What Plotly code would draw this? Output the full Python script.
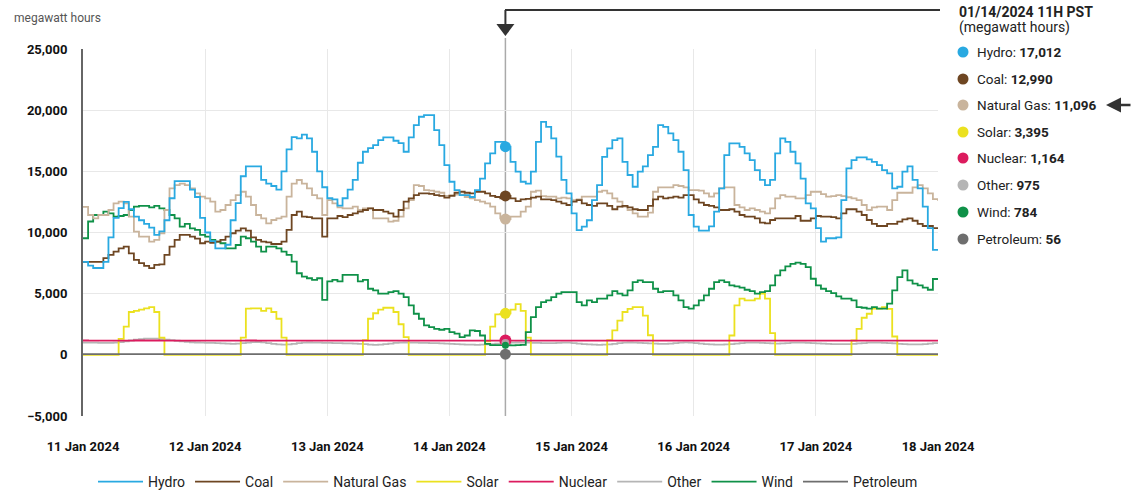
import pandas as pd
import plotly.graph_objects as go

# ---------------- data (hourly MWh, 11 Jan 00H .. 18 Jan 00H) ----------------
hydro = [
    7600, 7300, 7100, 7100, 7600, 9600, 11200, 12000, 12500, 11900,
    11300, 11000, 10700, 10400, 9800, 10100, 11000, 12800, 14200, 14200,
    14200, 13500, 12900, 11200, 10000, 9300, 8700, 8700, 9000, 11000,
    12400, 14600, 15400, 15400, 15400, 14300, 14000, 13800, 13500, 15000,
    16800, 17800, 17700, 18000, 17700, 16600, 15000, 13700, 12800, 12700,
    12200, 12800, 13500, 14300, 15700, 16600, 16900, 17150, 17550, 17770,
    17770, 17500, 17300, 16600, 17770, 18780, 19460, 19600, 19600, 18370,
    17150, 15500, 14150, 13470, 13060, 13060, 12900, 13470, 14400, 15650,
    16460, 17400, 17400, 17012, 15780, 14970, 14150, 14000, 14970, 17400,
    19050, 18640, 17700, 16200, 14300, 13200, 11570, 10200, 10480, 11000,
    12650, 13880, 16190, 16870, 17550, 17700, 15780, 14700, 13740, 14970,
    15400, 16330, 17000, 18780, 18640, 18100, 17550, 16600, 15100, 11430,
    10480, 10150, 10150, 10500, 11700, 13600, 16330, 17280, 17280, 17000,
    16460, 15920, 15100, 14300, 13880, 14300, 16460, 17700, 17400, 16600,
    15650, 14400, 12380, 11980, 10350, 9260, 9530, 9530, 9600, 12650,
    15240, 15920, 16140, 16140, 15970, 15780, 15500, 15100, 14830, 13600,
    13740, 14970, 15400, 14300, 13600, 12110, 10350, 8580, 8580,
]
coal = [
    7600, 7600, 7600, 7600, 7900, 8170, 8440, 8710, 8850, 8300,
    7760, 7490, 7270, 7080, 7350, 7400, 8170, 8850, 9390, 9800,
    9800, 9660, 9500, 9120, 9260, 9150, 9260, 9390, 9660, 9940,
    10150, 10340, 10150, 9600, 9400, 9260, 9200, 9060, 9060, 9260,
    10210, 11430, 11700, 11300, 11250, 11160, 11160, 9660, 11160, 11160,
    11350, 11250, 11430, 11570, 11700, 11840, 11980, 11840, 11840, 11700,
    11570, 11300, 11840, 12520, 12790, 13060, 13200, 13200, 13150, 13060,
    13000, 12850, 13000, 13250, 13330, 13250, 13200, 13330, 13330, 13200,
    13000, 12900, 12790, 12990, 12790, 12570, 12700, 12750, 12850, 12930,
    12700, 12700, 12650, 12520, 12380, 12250, 12520, 12650, 12380, 12250,
    12170, 12380, 12380, 12170, 11900, 12110, 12170, 12050, 11900, 11840,
    11840, 12170, 12700, 12930, 12790, 12850, 12930, 12850, 13060, 13060,
    12710, 12440, 12250, 12170, 12050, 11840, 11840, 11900, 11700, 11430,
    11300, 11300, 11160, 10800, 10750, 11020, 11160, 11160, 11160, 11160,
    11350, 10960, 10960, 11160, 11350, 11300, 11300, 11250, 11160, 11570,
    11900, 11900, 11700, 11430, 11020, 10700, 10530, 10530, 10700, 10700,
    10890, 11080, 11160, 10960, 10700, 10530, 10530, 10350, 10350,
]
natural_gas = [
    12100, 11430, 11160, 11430, 11430, 11840, 12380, 12520, 12380, 11300,
    10070, 9660, 9660, 9260, 9390, 9940, 11840, 13600, 13880, 14000,
    13880, 13600, 13200, 12930, 12790, 12520, 11700, 11840, 12250, 12650,
    13060, 13330, 12930, 12250, 11430, 11160, 10750, 11020, 11160, 11300,
    12930, 14000, 14290, 14000, 13600, 13060, 12790, 11430, 12650, 12380,
    12050, 11980, 11980, 12110, 11840, 11980, 11980, 11160, 11160, 11160,
    10890, 10960, 11300, 11980, 12650, 13880, 13800, 13470, 13420, 13330,
    13250, 13000, 13060, 13100, 13100, 12900, 12790, 12650, 12520, 12380,
    12110, 11570, 11160, 11096, 11300, 11300, 11700, 12110, 13330, 13420,
    12980, 12930, 12930, 12790, 12850, 12790, 12650, 12700, 12930, 12930,
    12930, 13330, 13420, 13200, 12790, 12520, 12110, 11840, 11570, 11300,
    11300, 11630, 13330, 13690, 13690, 13690, 13880, 13800, 13690, 13470,
    13470, 13420, 13200, 12930, 13200, 13600, 13690, 13690, 12250, 12050,
    11840, 11980, 11840, 11700, 11570, 11980, 12790, 13060, 12930, 12930,
    12790, 12790, 13060, 13330, 13330, 13140, 12930, 12980, 13060, 12980,
    12880, 12790, 12650, 12250, 11840, 12050, 12110, 12110, 11840, 12650,
    13250, 13250, 13250, 13690, 13880, 13600, 13200, 12730, 12600,
]
solar = [
    0, 0, 0, 0, 0, 0, 0, 1300, 2300, 3500,
    3600, 3700, 3800, 3900, 3500, 1400, 0, 0, 0, 0,
    0, 0, 0, 0, 0, 0, 0, 0, 0, 0,
    0, 1400, 3770, 3800, 3800, 3600, 3800, 3500, 2950, 1400,
    0, 0, 0, 0, 0, 0, 0, 0, 0, 0,
    0, 0, 0, 0, 0, 1200, 2950, 3400, 3700, 3850,
    3850, 3500, 2500, 1450, 0, 0, 0, 0, 0, 0,
    0, 0, 0, 0, 0, 0, 0, 0, 0, 1100,
    2300, 3300, 3350, 3395, 3700, 4150, 3600, 1400, 0, 0,
    0, 0, 0, 0, 0, 0, 0, 0, 0, 0,
    0, 0, 0, 1200, 2000, 2800, 3500, 3750, 3900, 3900,
    3200, 1600, 0, 0, 0, 0, 0, 0, 0, 0,
    0, 0, 0, 0, 0, 0, 0, 1580, 4040, 4590,
    4450, 4450, 4600, 5000, 4600, 1770, 0, 0, 0, 0,
    0, 0, 0, 0, 0, 0, 0, 0, 0, 0,
    0, 1170, 2130, 3030, 3360, 3770, 3770, 3900, 3750, 1500,
    0, 0, 0, 0, 0, 0, 0, 0, 0,
]
nuclear = [
    1170, 1168, 1168, 1166, 1166, 1165, 1165, 1164, 1166, 1168,
    1170, 1170, 1172, 1172, 1170, 1168, 1166, 1165, 1164, 1164,
    1165, 1166, 1168, 1168, 1166, 1165, 1164, 1164, 1163, 1165,
    1166, 1168, 1170, 1170, 1168, 1166, 1165, 1164, 1164, 1165,
    1166, 1166, 1168, 1168, 1166, 1165, 1164, 1163, 1163, 1164,
    1165, 1166, 1168, 1168, 1167, 1166, 1165, 1164, 1164, 1163,
    1163, 1164, 1165, 1166, 1168, 1168, 1166, 1165, 1164, 1164,
    1163, 1163, 1164, 1165, 1166, 1166, 1165, 1164, 1164, 1163,
    1163, 1164, 1164, 1164, 1165, 1166, 1166, 1165, 1164, 1164,
    1163, 1163, 1164, 1165, 1166, 1167, 1167, 1166, 1165, 1164,
    1164, 1163, 1163, 1164, 1165, 1166, 1166, 1165, 1164, 1164,
    1163, 1163, 1164, 1165, 1166, 1166, 1165, 1164, 1163, 1163,
    1164, 1165, 1166, 1166, 1165, 1164, 1164, 1163, 1163, 1164,
    1165, 1166, 1166, 1165, 1164, 1163, 1163, 1164, 1165, 1166,
    1166, 1165, 1164, 1164, 1163, 1163, 1164, 1165, 1166, 1166,
    1165, 1164, 1164, 1163, 1163, 1164, 1165, 1166, 1166, 1165,
    1164, 1164, 1163, 1163, 1164, 1165, 1166, 1166, 1165,
]
other = [
    1000, 995, 990, 985, 980, 985, 1000, 1040, 1100, 1170,
    1240, 1290, 1320, 1330, 1320, 1290, 1250, 1200, 1150, 1100,
    1060, 1030, 1010, 990, 980, 970, 960, 940, 920, 900,
    920, 960, 1000, 1040, 1050, 1020, 960, 900, 850, 830,
    850, 900, 960, 1000, 1010, 1000, 990, 980, 970, 960,
    950, 940, 930, 920, 900, 870, 840, 820, 830, 870,
    920, 970, 1000, 1010, 1000, 990, 980, 970, 960, 950,
    940, 920, 900, 880, 860, 840, 830, 820, 830, 850,
    880, 910, 940, 975, 1000, 1010, 1000, 990, 980, 970,
    960, 950, 960, 980, 1000, 990, 960, 920, 880, 850,
    830, 820, 830, 860, 900, 950, 990, 1010, 1000, 980,
    960, 940, 920, 900, 900, 920, 960, 1000, 1020, 1000,
    960, 920, 880, 850, 830, 830, 850, 880, 920, 960,
    990, 1000, 990, 970, 950, 930, 920, 930, 960, 990,
    1000, 990, 970, 950, 930, 920, 900, 880, 870, 870,
    880, 900, 930, 960, 990, 1000, 990, 970, 950, 930,
    900, 880, 860, 850, 860, 880, 920, 960, 980,
]
wind = [
    9530, 10900, 11430, 11430, 11700, 11570, 11300, 11350, 11430, 11840,
    12110, 12170, 12170, 12050, 12170, 11980, 11840, 11430, 11160, 10480,
    10700, 10340, 10210, 9800, 9660, 9390, 9260, 9120, 8710, 8710,
    8980, 9660, 9530, 9260, 8850, 8440, 8850, 8850, 8710, 8440,
    8170, 7620, 6670, 6400, 6260, 6130, 6260, 4500, 6000, 6130,
    6000, 6540, 6540, 6540, 6000, 6130, 5400, 5270, 5000, 5000,
    5130, 5210, 5000, 4720, 4040, 3360, 2950, 2400, 2270, 2130,
    2050, 2130, 1860, 1730, 1450, 1580, 2000, 1950, 1580, 900,
    800, 790, 790, 784, 780, 800, 820, 1860, 3090, 3900,
    4310, 4450, 4720, 5000, 5130, 5130, 5130, 4310, 4040, 4450,
    4310, 4590, 4590, 4860, 5210, 5000, 4860, 5270, 5950, 6090,
    5950, 5950, 5400, 5130, 5210, 5210, 4860, 4450, 3900, 3770,
    4040, 4450, 4860, 5400, 5950, 6090, 5950, 5680, 5600, 5490,
    5320, 5210, 5000, 5130, 5210, 5680, 6500, 6900, 7230, 7440,
    7530, 7440, 7170, 6220, 5680, 5400, 5210, 5050, 4780, 4590,
    4590, 4450, 3900, 3850, 3770, 3900, 3770, 3770, 4180, 5270,
    6360, 6900, 6090, 5820, 5680, 5490, 5320, 6200, 6200,
]
petroleum = [
    58, 58, 57, 57, 56, 56, 57, 58, 59, 60,
    60, 61, 61, 60, 59, 58, 58, 57, 57, 56,
    56, 56, 55, 55, 55, 56, 56, 57, 58, 58,
    59, 59, 60, 60, 59, 58, 57, 57, 56, 56,
    55, 55, 56, 56, 57, 57, 58, 58, 57, 57,
    56, 56, 55, 55, 55, 56, 57, 58, 58, 59,
    59, 60, 60, 59, 58, 57, 56, 56, 55, 55,
    55, 56, 56, 57, 57, 58, 58, 57, 57, 56,
    56, 56, 56, 56, 57, 57, 58, 58, 59, 59,
    58, 58, 57, 57, 56, 56, 55, 55, 56, 56,
    57, 57, 58, 58, 57, 57, 56, 56, 55, 55,
    55, 56, 56, 57, 58, 58, 59, 59, 58, 58,
    57, 57, 56, 56, 55, 55, 56, 56, 57, 57,
    58, 58, 57, 57, 56, 56, 55, 55, 55, 56,
    56, 57, 57, 58, 58, 57, 57, 56, 56, 55,
    55, 56, 56, 57, 57, 58, 58, 57, 57, 56,
    56, 55, 55, 56, 56, 57, 57, 58, 58,
]

series_names = ["Hydro", "Coal", "Natural Gas", "Solar", "Nuclear", "Other", "Wind", "Petroleum"]
series_values = [hydro, coal, natural_gas, solar, nuclear, other, wind, petroleum]
series_colors = ["#29A9E1", "#6E4622", "#C9B49C", "#EBE11F", "#DC1B5E", "#B5B5B5", "#0F9148", "#6E6E6E"]
day_ticks = ["2024-01-11", "2024-01-12", "2024-01-13", "2024-01-14",
             "2024-01-15", "2024-01-16", "2024-01-17", "2024-01-18"]
y_ticks = [-5000, 0, 5000, 10000, 15000, 20000, 25000]
cursor_time = "2024-01-14 11:00"
cursor_title = "01/14/2024 11H PST"
cursor_subtitle = "(megawatt hours)"
y_unit = "megawatt hours"

times = pd.date_range("2024-01-11 00:00", periods=len(hydro), freq="h")
cursor_idx = list(times).index(pd.Timestamp(cursor_time))

FONT = "Roboto, sans-serif"

FW, FH = 1141, 493
# plot area in window pixels
PX0, PX1, PY0, PY1 = 83, 938, 49, 416
L, R, T, B = PX0, FW - PX1, PY0, FH - PY1
PW, PH = PX1 - PX0, PY1 - PY0


def px_x(px):
    return (px - PX0) / PW


def px_y(py):
    return (PY1 - py) / PH


fig = go.Figure()

draw_order = ["Other", "Solar", "Petroleum", "Nuclear", "Wind", "Natural Gas", "Coal", "Hydro"]
for name in draw_order:
    i = series_names.index(name)
    fig.add_trace(go.Scatter(
        x=times, y=series_values[i], name=name, mode="lines",
        line=dict(color=series_colors[i], width=1.8, shape="hv"),
        legendrank=i + 1,
    ))

# cursor markers
for name in ["Petroleum", "Solar", "Natural Gas", "Coal", "Hydro", "Nuclear", "Other", "Wind"]:
    i = series_names.index(name)
    size = {"Nuclear": 12, "Other": 8, "Wind": 7}.get(name, 11)
    fig.add_trace(go.Scatter(
        x=[times[cursor_idx]], y=[series_values[i][cursor_idx]], mode="markers",
        marker=dict(color=series_colors[i], size=size, line=dict(width=0)),
        showlegend=False, hoverinfo="skip",
        opacity=0.85 if name == "Other" else 1,
    ))

shapes = []
annotations = []

# cursor line
shapes.append(dict(type="line", xref="x", yref="paper", x0=cursor_time, x1=cursor_time,
                   y0=0, y1=px_y(38), line=dict(color="#aaaaaa", width=1.5), layer="below"))
# top pointer
shapes.append(dict(type="line", xref="x", yref="paper", x0=cursor_time, x1=cursor_time,
                   y0=px_y(10), y1=px_y(26), line=dict(color="#333333", width=2)))
shapes.append(dict(type="line", xref="paper", yref="paper", x0=px_x(505), x1=px_x(940),
                   y0=px_y(10), y1=px_y(10), line=dict(color="#333333", width=2)))
shapes.append(dict(type="path", xref="x", yref="paper", xsizemode="pixel", ysizemode="pixel",
                   xanchor=cursor_time, yanchor=px_y(36),
                   path="M -9,12 L 9,12 L 0,0 Z", fillcolor="#333333", line=dict(width=0)))

annotations.append(dict(text=y_unit, xref="paper", yref="paper", x=px_x(12), y=px_y(18),
                        xanchor="left", yanchor="middle", showarrow=False,
                        font=dict(family=FONT, size=12, color="#555555")))
annotations.append(dict(text="<b>" + cursor_title + "</b>", xref="paper", yref="paper",
                        x=px_x(957), y=px_y(12), xanchor="left", yanchor="middle", showarrow=False,
                        font=dict(family=FONT, size=14, color="#222222")))
annotations.append(dict(text=cursor_subtitle, xref="paper", yref="paper",
                        x=px_x(957), y=px_y(28), xanchor="left", yanchor="middle", showarrow=False,
                        font=dict(family=FONT, size=14, color="#222222")))

row_y = [52, 79, 105, 132, 158, 185, 212, 239]
for k, name in enumerate(series_names):
    val = series_values[k][cursor_idx]
    shapes.append(dict(type="circle", xref="paper", yref="paper", xsizemode="pixel", ysizemode="pixel",
                       xanchor=px_x(963), yanchor=px_y(row_y[k]), x0=-5.5, x1=5.5, y0=-5.5, y1=5.5,
                       fillcolor=series_colors[k], line=dict(width=0)))
    annotations.append(dict(text=f"{name}: <b>{val:,}</b>", xref="paper", yref="paper",
                            x=px_x(975), y=px_y(row_y[k]), xanchor="left", yanchor="middle",
                            showarrow=False, font=dict(family=FONT, size=13.5, color="#222222")))

# arrow pointing at the Natural Gas row
annotations.append(dict(text="", xref="paper", yref="paper", x=px_x(1106), y=px_y(105),
                        ax=26, ay=0, showarrow=True, arrowhead=2, arrowsize=1.2, arrowwidth=2.5,
                        arrowcolor="#333333"))

fig.update_layout(
    width=FW, height=FH,
    margin=dict(l=L, r=R, t=T, b=B, pad=0, autoexpand=False),
    plot_bgcolor="white", paper_bgcolor="white",
    font=dict(family=FONT, color="#222222"),
    showlegend=True,
    legend=dict(orientation="h", x=px_x(508), xanchor="center", y=px_y(482), yanchor="middle",
                font=dict(family=FONT, size=14, color="#222222"), itemwidth=45,
                traceorder="normal"),
    xaxis=dict(range=[day_ticks[0], day_ticks[-1]], tickvals=day_ticks, tickformat="%-d %b %Y",
               showgrid=True, gridcolor="#e8e8e8", gridwidth=1, zeroline=False, showline=False,
               automargin=False,
               ticks="outside", ticklen=18, tickcolor="rgba(0,0,0,0)",
               tickfont=dict(family=FONT, size=13, color="#111111", weight="bold")),
    yaxis=dict(range=[-5000, 25000], tickvals=y_ticks, tickformat=",",
               showgrid=True, gridcolor="#e8e8e8", gridwidth=1, zeroline=False,
               showline=True, linecolor="#666666", linewidth=2, automargin=False,
               ticks="outside", ticklen=11, tickcolor="rgba(0,0,0,0)",
               tickfont=dict(family=FONT, size=13, color="#111111", weight="bold")),
    shapes=shapes, annotations=annotations,
    hovermode=False,
)

fig.write_html("out.html",
               config={"displayModeBar": False},
               post_script="document.body.style.margin='0';document.body.style.overflow='hidden';")
